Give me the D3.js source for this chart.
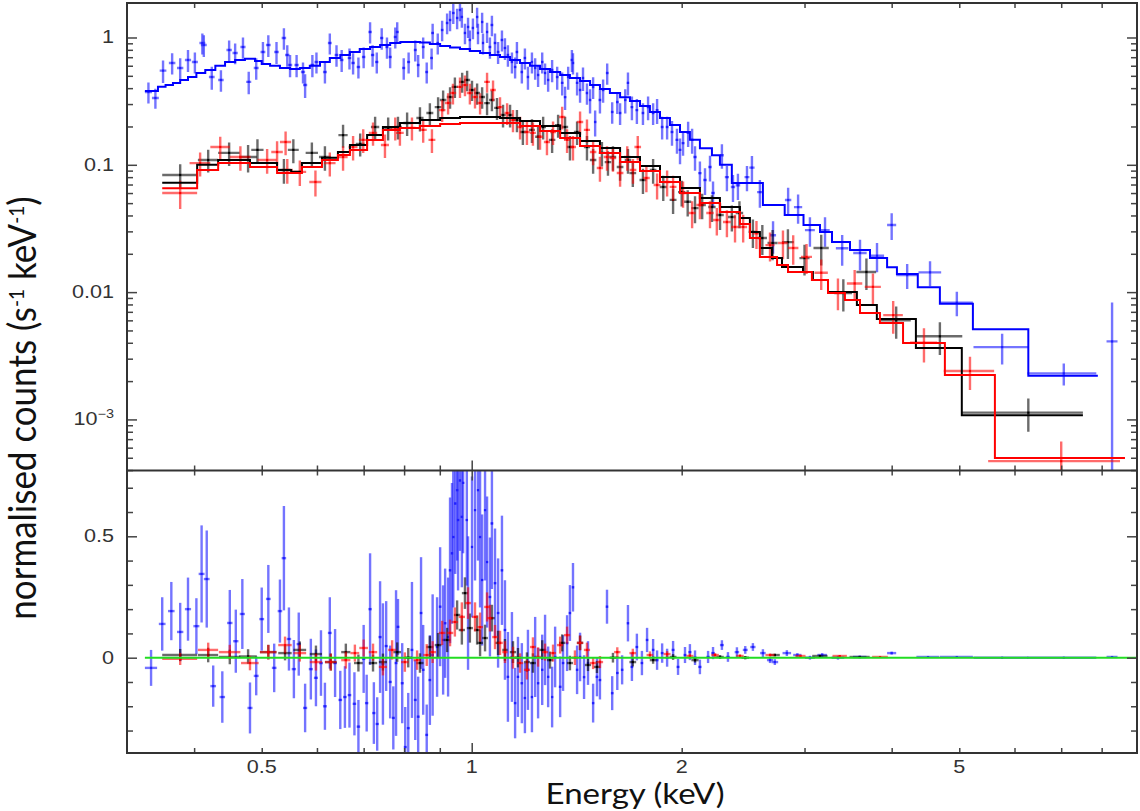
<!DOCTYPE html>
<html><head><meta charset="utf-8">
<script src="https://cdn.jsdelivr.net/npm/d3@7"></script>
<style>html,body{margin:0;padding:0;background:#fff}svg{display:block}</style>
</head><body>
<svg id="c" width="1140" height="811"></svg>
<script>
// ---------- tick values ----------
const xMinorTicks = [0.4,0.5,0.6,0.7,0.8,0.9,2,3,4,5,6,7,8];
const xMajorTicks = [1];
const xTickLabels = [0.5,1,2,5];
const topMajorTicks = [0.001,0.01,0.1,1];
const topTickLabels = ["10^-3","0.01","0.1","1"];
const resMinorTicks = [-0.3,-0.2,-0.1,0.1,0.2,0.3,0.4,0.6,0.7];
const resMajorTicks = [0,0.5];
const resTickLabels = ["0","0.5"];
const zeroLineRange = [0.34, 8.99];

// ---------- data: [energy keV, half-width, value, error] ----------
const blueData = [
[0.344,0.004,0.373,0.07],[0.352,0.004,0.335,0.06],[0.361,0.004,0.549,0.11],[0.372,0.004,0.631,0.12],
[0.382,0.004,0.576,0.11],[0.392,0.004,0.666,0.13],[0.401,0.004,0.642,0.12],[0.411,0.004,0.905,0.17],
[0.413,0.004,0.873,0.17],[0.424,0.004,0.489,0.1],[0.437,0.004,0.464,0.09],[0.449,0.004,0.798,0.15],
[0.458,0.004,0.755,0.14],[0.470,0.004,0.842,0.16],[0.479,0.004,0.448,0.09],[0.491,0.004,0.576,0.11],
[0.502,0.004,0.770,0.15],[0.511,0.004,0.873,0.17],[0.525,0.004,0.770,0.15],[0.538,0.004,0.990,0.19],
[0.544,0.004,0.729,0.14],[0.549,0.004,0.608,0.12],[0.561,0.004,0.608,0.12],[0.573,0.004,0.535,0.1],
[0.577,0.004,0.424,0.09],[0.591,0.004,0.608,0.12],[0.599,0.004,0.642,0.12],[0.616,0.004,0.535,0.1],
[0.626,0.004,0.905,0.17],[0.640,0.004,0.729,0.14],[0.651,0.004,0.666,0.13],[0.668,0.004,0.690,0.13],
[0.676,0.004,0.631,0.12],[0.688,0.004,0.586,0.11],[0.700,0.004,0.703,0.13],[0.715,0.004,1.105,0.21],
[0.721,0.004,0.729,0.14],[0.731,0.004,0.642,0.12],[0.743,0.004,0.990,0.19],[0.756,0.004,0.842,0.16],
[0.764,0.004,0.703,0.13],[0.777,0.004,1.010,0.19],[0.782,0.004,1.105,0.21],[0.799,0.004,0.576,0.11],
[0.812,0.004,0.642,0.12],[0.830,0.004,0.798,0.15],[0.838,0.004,0.608,0.12],[0.852,0.004,0.842,0.16],
[0.862,0.004,0.535,0.1],[0.876,0.004,0.690,0.13],[0.879,0.004,1.085,0.2],[0.894,0.004,0.905,0.17],
[0.907,0.004,1.145,0.21],[0.922,0.004,1.300,0.24],[0.931,0.004,1.372,0.25],[0.941,0.004,1.557,0.28],
[0.953,0.004,1.423,0.26],[0.962,0.004,1.644,0.3],[0.968,0.004,1.450,0.26],[0.978,0.004,1.085,0.2],
[0.988,0.004,1.210,0.22],[0.994,0.004,0.956,0.18],[1.004,0.004,1.188,0.22],[1.018,0.004,1.450,0.26],
[1.021,0.004,1.085,0.2],[1.035,0.004,1.323,0.24],[1.038,0.004,0.905,0.17],[1.052,0.004,1.105,0.2],
[1.062,0.005,0.842,0.16],[1.069,0.005,1.254,0.23],[1.080,0.005,0.905,0.17],[1.091,0.005,0.770,0.15],
[1.105,0.005,0.956,0.18],[1.116,0.005,0.827,0.16],[1.127,0.005,0.729,0.14],[1.142,0.005,0.642,0.12],
[1.154,0.005,0.586,0.11],[1.161,0.005,0.770,0.15],[1.180,0.005,0.535,0.1],[1.192,0.005,0.690,0.13],
[1.204,0.005,0.489,0.1],[1.220,0.005,0.642,0.12],[1.233,0.005,0.576,0.11],[1.245,0.005,0.508,0.1],
[1.262,0.005,0.642,0.12],[1.274,0.005,0.526,0.1],[1.287,0.005,0.464,0.09],[1.304,0.005,0.556,0.11],
[1.326,0.006,0.489,0.1],[1.348,0.006,0.440,0.09],[1.361,0.006,0.340,0.07],[1.375,0.006,0.489,0.1],
[1.392,0.006,0.666,0.13],[1.397,0.006,0.631,0.12],[1.416,0.006,0.440,0.09],[1.430,0.006,0.387,0.08],
[1.444,0.006,0.480,0.1],[1.463,0.006,0.366,0.07],[1.478,0.006,0.323,0.07],[1.493,0.006,0.408,0.08],
[1.503,0.006,0.217,0.05],[1.527,0.007,0.323,0.07],[1.543,0.007,0.387,0.08],[1.564,0.007,0.526,0.1],
[1.590,0.007,0.260,0.05],[1.617,0.007,0.311,0.06],[1.632,0.007,0.255,0.05],[1.660,0.007,0.323,0.07],
[1.675,0.007,0.440,0.09],[1.697,0.008,0.284,0.06],[1.725,0.008,0.269,0.06],[1.760,0.008,0.255,0.05],
[1.790,0.008,0.284,0.06],[1.820,0.008,0.255,0.05],[1.844,0.009,0.269,0.06],[1.875,0.009,0.198,0.04],
[1.906,0.009,0.198,0.04],[1.937,0.01,0.181,0.04],[1.969,0.01,0.157,0.035],[1.989,0.01,0.131,0.03],
[2.009,0.01,0.148,0.03],[2.043,0.011,0.178,0.04],[2.070,0.011,0.157,0.035],[2.090,0.012,0.115,0.025],
[2.124,0.012,0.086,0.02],[2.160,0.013,0.076,0.018],[2.196,0.013,0.096,0.022],[2.218,0.014,0.060,0.014],
[2.284,0.015,0.119,0.026],[2.322,0.016,0.080,0.018],[2.369,0.017,0.067,0.016],[2.408,0.018,0.069,0.016],
[2.481,0.02,0.080,0.018],[2.522,0.022,0.095,0.022],[2.589,0.024,0.061,0.015],[2.704,0.027,0.028,0.008],
[2.842,0.03,0.0529,0.013],[2.937,0.04,0.0465,0.012],[3.054,0.05,0.0307,0.008],[3.210,0.05,0.0307,0.008],
[3.397,0.07,0.0221,0.006],[3.603,0.08,0.0203,0.0055],[3.811,0.09,0.0193,0.005],[4.000,0.06,0.0337,0.008],
[4.210,0.15,0.0136,0.003],[4.540,0.17,0.0143,0.0032],[4.960,0.27,0.00825,0.0018],[5.760,0.52,0.0037,0.001],
[7.060,0.8,0.0023,0.00045],[8.280,0.15,0.0041,0.0042]
];
const blackData = [
[0.382,0.022,0.0832,0.018],[0.419,0.014,0.109,0.022],[0.449,0.016,0.124,0.026],[0.478,0.014,0.115,0.028],
[0.493,0.01,0.131,0.028],[0.538,0.012,0.091,0.02],[0.555,0.01,0.131,0.028],[0.590,0.012,0.124,0.026],
[0.616,0.012,0.115,0.025],[0.654,0.01,0.171,0.035],[0.692,0.01,0.146,0.03],[0.727,0.01,0.198,0.04],
[0.759,0.01,0.195,0.04],[0.784,0.01,0.198,0.04],[0.808,0.01,0.213,0.045],[0.843,0.01,0.233,0.05],
[0.871,0.01,0.255,0.05],[0.895,0.01,0.284,0.055],[0.910,0.01,0.323,0.06],[0.931,0.01,0.341,0.065],
[0.946,0.01,0.409,0.075],[0.969,0.01,0.448,0.08],[0.985,0.01,0.464,0.085],[1.001,0.01,0.387,0.07],
[1.018,0.01,0.366,0.07],[1.035,0.01,0.341,0.065],[1.052,0.01,0.305,0.06],[1.069,0.01,0.323,0.06],
[1.087,0.01,0.280,0.055],[1.109,0.01,0.246,0.05],[1.135,0.01,0.246,0.05],[1.161,0.012,0.225,0.045],
[1.184,0.012,0.181,0.038],[1.220,0.012,0.188,0.04],[1.245,0.012,0.166,0.035],[1.266,0.012,0.198,0.04],
[1.304,0.014,0.157,0.033],[1.330,0.014,0.205,0.042],[1.361,0.014,0.198,0.04],[1.383,0.014,0.138,0.03],
[1.416,0.015,0.181,0.038],[1.463,0.015,0.138,0.03],[1.493,0.016,0.109,0.024],[1.537,0.016,0.124,0.027],
[1.568,0.017,0.105,0.023],[1.594,0.017,0.115,0.025],[1.632,0.018,0.096,0.021],[1.675,0.018,0.109,0.024],
[1.702,0.019,0.086,0.019],[1.760,0.02,0.076,0.017],[1.820,0.02,0.091,0.02],[1.882,0.022,0.067,0.015],
[1.944,0.022,0.053,0.012],[2.000,0.024,0.061,0.014],[2.040,0.024,0.0512,0.012],[2.090,0.025,0.0457,0.011],
[2.140,0.026,0.0483,0.011],[2.210,0.027,0.0466,0.011],[2.270,0.028,0.0403,0.0095],[2.360,0.03,0.0389,0.009],
[2.420,0.03,0.0418,0.01],[2.530,0.035,0.0297,0.0075],[2.610,0.04,0.0266,0.007],[2.700,0.045,0.0243,0.0065],
[2.840,0.055,0.0247,0.0065],[3.000,0.05,0.0185,0.005],[3.170,0.08,0.0222,0.006],[3.410,0.1,0.00984,0.0028],
[3.680,0.12,0.0144,0.004],[4.060,0.2,0.0060,0.0017],[4.690,0.36,0.0045,0.0013],[6.280,1.24,0.00113,0.00033]
];
const redData = [
[0.382,0.022,0.060,0.015],[0.408,0.014,0.103,0.022],[0.436,0.014,0.138,0.028],[0.466,0.016,0.115,0.025],
[0.509,0.016,0.109,0.024],[0.526,0.01,0.126,0.027],[0.541,0.01,0.151,0.032],[0.544,0.01,0.091,0.02],
[0.567,0.012,0.088,0.02],[0.597,0.012,0.0733,0.017],[0.626,0.012,0.103,0.022],[0.654,0.01,0.115,0.025],
[0.676,0.01,0.138,0.03],[0.699,0.01,0.157,0.033],[0.722,0.01,0.178,0.037],[0.751,0.01,0.143,0.03],
[0.777,0.01,0.195,0.04],[0.789,0.01,0.178,0.037],[0.821,0.01,0.195,0.04],[0.852,0.01,0.188,0.039],
[0.877,0.01,0.157,0.033],[0.907,0.01,0.269,0.052],[0.925,0.01,0.306,0.058],[0.940,0.01,0.366,0.068],
[0.962,0.01,0.409,0.075],[0.978,0.01,0.424,0.078],[0.994,0.01,0.366,0.068],[1.011,0.01,0.341,0.064],
[1.028,0.01,0.306,0.058],[1.052,0.01,0.448,0.08],[1.073,0.01,0.387,0.072],[1.098,0.01,0.284,0.055],
[1.124,0.01,0.255,0.05],[1.146,0.012,0.225,0.045],[1.173,0.012,0.198,0.04],[1.200,0.012,0.181,0.038],
[1.224,0.012,0.178,0.037],[1.253,0.012,0.166,0.035],[1.282,0.013,0.151,0.032],[1.308,0.013,0.181,0.038],
[1.348,0.014,0.2375,0.048],[1.370,0.014,0.157,0.033],[1.397,0.014,0.138,0.03],[1.430,0.015,0.217,0.045],
[1.463,0.015,0.188,0.039],[1.493,0.016,0.126,0.027],[1.527,0.016,0.0945,0.021],[1.563,0.017,0.115,0.025],
[1.594,0.017,0.113,0.025],[1.632,0.018,0.0862,0.019],[1.671,0.018,0.115,0.025],[1.703,0.019,0.091,0.02],
[1.730,0.019,0.138,0.03],[1.780,0.02,0.0788,0.018],[1.844,0.021,0.0694,0.016],[1.906,0.022,0.0733,0.017],
[1.944,0.022,0.0671,0.015],[2.009,0.024,0.060,0.014],[2.070,0.024,0.0418,0.01],[2.124,0.025,0.0483,0.011],
[2.196,0.027,0.0418,0.01],[2.246,0.028,0.0368,0.009],[2.322,0.03,0.0355,0.0085],[2.385,0.03,0.0325,0.008],
[2.450,0.032,0.0325,0.008],[2.560,0.035,0.029,0.0072],[2.677,0.04,0.0234,0.006],[2.794,0.045,0.0243,0.0062],
[2.890,0.05,0.0222,0.0058],[3.020,0.055,0.0189,0.005],[3.170,0.07,0.0142,0.0038],[3.350,0.08,0.0100,0.0028],
[3.540,0.09,0.0117,0.0032],[3.760,0.1,0.0110,0.003],[4.020,0.13,0.0066,0.0019],[4.450,0.2,0.0040,0.0012],
[5.180,0.43,0.0024,0.0007],[7.000,1.5,0.00047,0.0002]
];

// ---------- folded models: [bin low edge keV, value] (last entry closes final bin) ----------
const blueModel = [
[0.340,0.380],[0.355,0.410],[0.364,0.424],[0.373,0.440],[0.382,0.464],[0.392,0.489],[0.403,0.526],
[0.415,0.556],[0.429,0.600],[0.443,0.642],[0.458,0.666],[0.473,0.680],[0.489,0.654],[0.500,0.620],
[0.514,0.600],[0.531,0.576],[0.549,0.565],[0.567,0.576],[0.586,0.600],[0.606,0.642],[0.626,0.690],
[0.648,0.729],[0.669,0.770],[0.691,0.812],[0.715,0.842],[0.739,0.873],[0.764,0.905],[0.790,0.922],
[0.816,0.922],[0.843,0.913],[0.871,0.889],[0.901,0.857],[0.931,0.835],[0.962,0.812],[0.994,0.783],
[1.028,0.755],[1.062,0.729],[1.098,0.703],[1.135,0.666],[1.173,0.631],[1.212,0.600],[1.253,0.565],
[1.295,0.535],[1.339,0.508],[1.383,0.480],[1.430,0.455],[1.478,0.424],[1.527,0.394],[1.578,0.366],
[1.632,0.340],[1.686,0.317],[1.743,0.290],[1.801,0.260],[1.862,0.233],[1.924,0.205],[1.989,0.181],
[2.055,0.157],[2.124,0.135],[2.210,0.119],[2.269,0.100],[2.360,0.072],[2.615,0.0483],[2.810,0.0403],
[2.990,0.0337],[3.157,0.0297],[3.285,0.0247],[3.486,0.0214],[3.724,0.0185],[3.940,0.0157],[4.070,0.0139],
[4.360,0.0109],[4.690,0.0081],[5.230,0.0051],[6.280,0.0022],[7.900,0.0022]
];
const blackModel = [
[0.360,0.0724],[0.404,0.100],[0.433,0.109],[0.481,0.1033],[0.526,0.091],[0.551,0.088],[0.571,0.1033],
[0.610,0.1134],[0.643,0.1262],[0.669,0.143],[0.708,0.1714],[0.746,0.198],[0.789,0.213],[0.843,0.2248],
[0.901,0.2332],[0.962,0.237],[1.028,0.237],[1.098,0.2332],[1.173,0.2208],[1.253,0.2017],[1.339,0.1778],
[1.430,0.1538],[1.527,0.1355],[1.632,0.1151],[1.743,0.0979],[1.862,0.0802],[1.989,0.0657],[2.124,0.0548],
[2.269,0.0466],[2.424,0.0382],[2.505,0.0297],[2.589,0.0222],[2.694,0.01853],[2.785,0.01575],[2.985,0.01439],
[3.084,0.01245],[3.242,0.01002],[3.566,0.00792],[3.809,0.00615],[4.333,0.00364],[5.042,0.00108],[7.520,0.00108]
];
const redModel = [
[0.360,0.0654],[0.404,0.091],[0.433,0.1033],[0.481,0.0961],[0.526,0.0862],[0.571,0.0961],[0.610,0.109],
[0.643,0.1194],[0.669,0.1307],[0.708,0.1566],[0.746,0.1877],[0.789,0.1946],[0.843,0.2017],[0.901,0.2092],
[0.962,0.213],[1.028,0.213],[1.098,0.213],[1.173,0.2017],[1.253,0.1842],[1.339,0.1624],[1.430,0.1405],
[1.527,0.1238],[1.632,0.1052],[1.743,0.0894],[1.862,0.0733],[1.989,0.060],[2.124,0.0501],[2.269,0.0426],
[2.424,0.0343],[2.505,0.0266],[2.589,0.01887],[2.740,0.01633],[2.841,0.01439],[3.074,0.01245],[3.242,0.00984],
[3.428,0.00867],[3.603,0.00685],[3.848,0.00572],[4.153,0.00398],[4.768,0.00223],[5.624,0.000497],[8.640,0.000497]
];

// ---------- residuals: [energy keV, half-width, residual, error] ----------
const blueRes = [
[0.347,0.007,-0.042,0.074],[0.360,0.004,0.139,0.11],[0.371,0.004,0.192,0.12],[0.382,0.004,0.106,0.12],
[0.392,0.004,0.200,0.13],[0.403,0.004,0.130,0.115],[0.410,0.004,0.345,0.2],[0.417,0.004,0.324,0.2],
[0.426,0.004,-0.117,0.085],[0.439,0.004,-0.162,0.106],[0.450,0.004,0.143,0.136],[0.459,0.004,0.068,0.13],
[0.469,0.004,0.180,0.144],[0.481,0.004,-0.207,0.105],[0.491,0.004,-0.075,0.08],[0.500,0.004,0.159,0.13],
[0.511,0.004,0.242,0.14],[0.521,0.004,-0.042,0.1],[0.531,0.004,0.192,0.13],[0.538,0.004,0.410,0.215],
[0.547,0.004,0.077,0.13],[0.556,0.004,-0.047,0.12],[0.565,0.004,0.056,0.13],[0.577,0.004,-0.207,0.1],
[0.588,0.004,-0.047,0.125],[0.598,0.004,-0.083,0.117],[0.608,0.004,-0.022,0.135],[0.616,0.004,-0.200,0.097],
[0.626,0.004,0.102,0.147],[0.637,0.004,-0.022,0.14],[0.648,0.004,-0.174,0.12],[0.658,0.004,-0.162,0.127],
[0.668,0.004,-0.154,0.134],[0.679,0.004,-0.190,0.13],[0.688,0.004,-0.284,0.11],[0.700,0.004,-0.005,0.14],
[0.707,0.004,-0.187,0.117],[0.715,0.004,0.200,0.23],[0.724,0.004,-0.228,0.127],[0.732,0.004,-0.273,0.11],
[0.739,0.004,0.085,0.23],[0.746,0.004,-0.026,0.25],[0.754,0.004,0.048,0.185],[0.764,0.004,-0.100,0.15],
[0.772,0.004,-0.248,0.13],[0.779,0.004,-0.022,0.3],[0.784,0.004,0.127,0.115],[0.795,0.004,-0.105,0.165],
[0.803,0.004,-0.368,0.165],[0.811,0.004,-0.290,0.145],[0.821,0.004,0.032,0.28],[0.830,0.004,-0.174,0.165],
[0.838,0.004,-0.243,0.165],[0.846,0.004,0.184,0.23],[0.852,0.004,-0.050,0.185],[0.862,0.004,-0.318,0.125],
[0.871,0.004,-0.092,0.185],[0.879,0.004,0.011,0.25],[0.892,0.004,0.044,0.205],[0.901,0.004,0.210,0.245],
[0.910,0.004,0.073,0.225],[0.916,0.004,0.142,0.225],[0.925,0.004,0.085,0.245],[0.931,0.004,0.360,0.3],
[0.937,0.004,0.430,0.29],[0.941,0.004,0.497,0.29],[0.947,0.004,0.635,0.29],[0.953,0.004,0.690,0.29],
[0.956,0.004,0.567,0.29],[0.962,0.004,0.730,0.29],[0.968,0.004,0.580,0.29],[0.972,0.004,0.720,0.29],
[0.984,0.004,0.567,0.27],[0.988,0.004,0.225,0.275],[1.001,0.004,0.456,0.29],[1.011,0.004,0.608,0.29],
[1.021,0.004,0.690,0.29],[1.028,0.004,0.497,0.29],[1.035,0.004,0.320,0.27],[1.045,0.004,0.608,0.29],
[1.052,0.004,0.394,0.27],[1.062,0.005,0.250,0.245],[1.069,0.005,0.553,0.27],[1.080,0.005,0.307,0.225],
[1.091,0.005,0.184,0.225],[1.105,0.005,0.360,0.225],[1.116,0.005,0.114,0.205],[1.127,0.005,-0.079,0.185],
[1.142,0.005,0.003,0.185],[1.154,0.005,-0.187,0.145],[1.165,0.005,-0.079,0.165],[1.180,0.005,-0.105,0.165],
[1.192,0.005,-0.166,0.145],[1.204,0.005,-0.050,0.165],[1.220,0.005,-0.162,0.145],[1.233,0.005,0.003,0.165],
[1.245,0.005,-0.105,0.145],[1.262,0.005,-0.050,0.145],[1.274,0.005,0.032,0.145],[1.287,0.005,-0.079,0.125],
[1.304,0.005,-0.162,0.125],[1.317,0.006,0.003,0.125],[1.339,0.006,-0.120,0.125],[1.352,0.006,-0.022,0.115],
[1.370,0.006,0.060,0.115],[1.383,0.006,0.184,0.115],[1.397,0.006,0.290,0.1],[1.416,0.006,-0.050,0.1],
[1.430,0.006,0.003,0.1],[1.449,0.006,-0.080,0.09],[1.468,0.006,-0.022,0.09],[1.493,0.006,-0.187,0.08],
[1.512,0.007,-0.079,0.08],[1.527,0.007,-0.092,0.08],[1.563,0.007,0.210,0.07],[1.590,0.007,-0.146,0.07],
[1.617,0.007,-0.063,0.07],[1.643,0.007,-0.050,0.06],[1.675,0.007,0.142,0.075],[1.697,0.008,-0.038,0.058],
[1.725,0.008,0.044,0.055],[1.754,0.008,-0.022,0.05],[1.784,0.008,0.073,0.05],[1.820,0.008,0.032,0.045],
[1.844,0.009,-0.010,0.04],[1.875,0.009,0.019,0.04],[1.906,0.009,0.000,0.037],[1.944,0.01,0.032,0.037],
[1.976,0.01,-0.038,0.033],[2.022,0.01,0.011,0.033],[2.055,0.011,0.023,0.033],[2.090,0.012,0.000,0.03],
[2.124,0.012,-0.038,0.03],[2.182,0.013,0.003,0.025],[2.218,0.014,0.019,0.025],[2.284,0.015,0.052,0.02],
[2.330,0.016,0.003,0.02],[2.400,0.018,0.023,0.02],[2.467,0.02,0.032,0.016],[2.530,0.022,0.044,0.016],
[2.615,0.024,0.019,0.016],[2.677,0.027,-0.010,0.012],[2.720,0.03,-0.018,0.012],[2.830,0.04,0.019,0.012],
[2.930,0.04,0.011,0.008],[3.054,0.05,0.000,0.008],[3.180,0.05,0.011,0.008],[3.350,0.07,0.000,0.008],
[3.600,0.08,0.003,0.006],[4.000,0.06,0.019,0.006],[4.510,0.17,0.003,0.004],[4.960,0.27,0.003,0.004],
[5.760,0.52,0.000,0.002],[7.060,0.8,0.000,0.002],[8.280,0.15,0.003,0.004]
];
const blackRes = [
[0.382,0.022,0.011,0.025],[0.419,0.014,0.011,0.03],[0.450,0.016,0.003,0.03],[0.478,0.014,0.005,0.03],
[0.511,0.014,0.023,0.03],[0.540,0.012,0.019,0.03],[0.567,0.012,0.032,0.035],[0.598,0.012,0.015,0.035],
[0.628,0.012,-0.018,0.035],[0.660,0.01,0.023,0.035],[0.688,0.01,-0.022,0.035],[0.722,0.01,-0.022,0.035],
[0.746,0.01,-0.018,0.035],[0.782,0.01,0.023,0.04],[0.811,0.01,0.000,0.04],[0.843,0.01,-0.022,0.04],
[0.871,0.01,0.044,0.045],[0.895,0.01,0.052,0.05],[0.922,0.01,0.073,0.05],[0.953,0.01,0.176,0.06],
[0.968,0.01,0.114,0.06],[0.978,0.01,0.266,0.065],[0.994,0.01,0.122,0.06],[1.018,0.01,0.114,0.06],
[1.028,0.01,0.061,0.055],[1.045,0.01,0.081,0.055],[1.069,0.01,0.163,0.055],[1.091,0.01,0.061,0.05],
[1.116,0.01,0.032,0.045],[1.146,0.012,0.023,0.045],[1.165,0.012,0.000,0.04],[1.200,0.012,-0.018,0.04],
[1.224,0.012,-0.022,0.04],[1.262,0.012,0.032,0.04],[1.295,0.013,-0.010,0.035],[1.348,0.014,0.061,0.035],
[1.383,0.014,-0.022,0.03],[1.430,0.015,0.061,0.03],[1.468,0.015,-0.030,0.025],[1.512,0.016,-0.038,0.025],
[1.594,0.017,0.000,0.02],[1.702,0.019,-0.018,0.018],[1.820,0.02,-0.010,0.015],[1.944,0.022,0.003,0.012],
[2.090,0.025,-0.010,0.01],[2.270,0.028,0.003,0.008],[2.467,0.03,0.000,0.007],[2.720,0.045,0.011,0.006],
[3.157,0.08,0.007,0.005],[3.600,0.12,0.003,0.004]
];
const redRes = [
[0.382,0.022,-0.005,0.025],[0.419,0.014,0.032,0.03],[0.450,0.016,0.023,0.03],[0.481,0.014,-0.022,0.03],
[0.511,0.014,0.023,0.03],[0.540,0.012,0.052,0.035],[0.567,0.012,0.019,0.035],[0.598,0.012,-0.018,0.035],
[0.628,0.012,-0.018,0.035],[0.660,0.01,-0.010,0.035],[0.680,0.01,0.019,0.035],[0.700,0.01,0.040,0.035],
[0.722,0.01,0.023,0.035],[0.746,0.01,-0.038,0.035],[0.769,0.01,0.032,0.04],[0.802,0.01,-0.018,0.04],
[0.835,0.01,-0.010,0.04],[0.862,0.01,0.011,0.045],[0.879,0.01,0.023,0.045],[0.907,0.01,0.102,0.05],
[0.931,0.01,0.102,0.055],[0.946,0.01,0.147,0.06],[0.968,0.01,0.168,0.06],[0.988,0.01,0.225,0.065],
[1.011,0.01,0.168,0.06],[1.028,0.01,0.126,0.06],[1.052,0.01,0.209,0.06],[1.062,0.01,0.163,0.055],
[1.080,0.01,0.085,0.05],[1.098,0.01,0.061,0.05],[1.116,0.01,0.023,0.045],[1.146,0.012,0.000,0.045],
[1.173,0.012,-0.022,0.04],[1.200,0.012,-0.050,0.04],[1.224,0.012,0.044,0.04],[1.245,0.012,0.003,0.04],
[1.274,0.013,0.023,0.035],[1.308,0.013,0.019,0.035],[1.339,0.014,0.052,0.035],[1.370,0.014,0.093,0.035],
[1.406,0.014,0.000,0.03],[1.430,0.015,0.061,0.03],[1.463,0.015,0.032,0.03],[1.493,0.016,-0.022,0.025],
[1.527,0.016,-0.018,0.025],[1.617,0.017,0.023,0.02],[1.702,0.019,0.019,0.018],[1.801,0.02,0.011,0.015],
[1.906,0.022,0.015,0.012],[2.055,0.024,0.007,0.01],[2.233,0.028,0.011,0.008],[2.424,0.03,0.007,0.007],
[2.677,0.04,0.011,0.006],[2.960,0.05,0.007,0.005],[3.370,0.08,0.007,0.004],[3.850,0.1,0.003,0.003]
];

// ---------- layout ----------
const L = 127, R = 1137, T = 3, MID = 470.5, B = 753;
const x = d3.scaleLog().domain([0.3205, 8.99]).range([L, R]);
const yTop = d3.scaleLog().domain([3.97e-4, 1.866]).range([MID, T]);
const yRes = d3.scaleLinear().domain([-0.3925, 0.771]).range([B, MID]);

const svg = d3.select("#c");
svg.append("rect").attr("width",1140).attr("height",811).attr("fill","#fff");
const defs = svg.append("defs");
defs.append("clipPath").attr("id","clipTop").append("rect")
  .attr("x",L).attr("y",T).attr("width",R-L).attr("height",MID-T);
defs.append("clipPath").attr("id","clipRes").append("rect")
  .attr("x",L).attr("y",MID).attr("width",R-L).attr("height",B-MID);

const gTop = svg.append("g").attr("clip-path","url(#clipTop)");
const gRes = svg.append("g").attr("clip-path","url(#clipRes)");

function drawErr(g, data, yScale, color, opacity, isLog) {
  const lo = d => isLog ? Math.max(d[2]-d[3], 1e-6) : d[2]-d[3];
  const grp = g.append("g").attr("stroke", color).attr("stroke-width", 2.4).attr("stroke-opacity", opacity);
  grp.selectAll("line.v").data(data).join("line").attr("class","v")
    .attr("x1", d => x(d[0])).attr("x2", d => x(d[0]))
    .attr("y1", d => yScale(lo(d))).attr("y2", d => yScale(d[2]+d[3]));
  grp.selectAll("line.h").data(data).join("line").attr("class","h")
    .attr("x1", d => x(d[0]-d[1])).attr("x2", d => x(d[0]+d[1]))
    .attr("y1", d => yScale(d[2])).attr("y2", d => yScale(d[2]));
  g.append("g").attr("fill", color).selectAll("rect").data(data).join("rect")
    .attr("x", d => x(d[0]) - 1).attr("y", d => yScale(d[2]) - 1)
    .attr("width", 2).attr("height", 2);
}

drawErr(gTop, blueData, yTop, "#1f1fff", 0.62, true);
drawErr(gTop, blackData, yTop, "#000", 0.58, true);
drawErr(gTop, redData, yTop, "#ff0000", 0.58, true);

const stepLine = d3.line().x(d => x(d[0])).y(d => yTop(d[1])).curve(d3.curveStepAfter);
gTop.append("path").datum(blueModel).attr("d", stepLine).attr("fill","none").attr("stroke","#0000ff").attr("stroke-width",2);
gTop.append("path").datum(blackModel).attr("d", stepLine).attr("fill","none").attr("stroke","#000").attr("stroke-width",2);
gTop.append("path").datum(redModel).attr("d", stepLine).attr("fill","none").attr("stroke","#ff0000").attr("stroke-width",2);

drawErr(gRes, blueRes, yRes, "#1f1fff", 0.62, false);
drawErr(gRes, blackRes, yRes, "#000", 0.58, false);
drawErr(gRes, redRes, yRes, "#ff0000", 0.58, false);
gRes.append("line").attr("x1", x(zeroLineRange[0])).attr("x2", x(zeroLineRange[1]))
  .attr("y1", yRes(0)).attr("y2", yRes(0)).attr("stroke","#22dd22").attr("stroke-width",2);

// ---------- axes / ticks ----------
const tickColor = "#444";
function ticks(gen, tx, ty, vals, size) {
  const g = svg.append("g").attr("transform", `translate(${tx},${ty})`)
    .call(gen.tickValues(vals).tickSize(size).tickFormat(""));
  g.select(".domain").remove();
  g.selectAll("line").attr("stroke", tickColor).attr("stroke-width", 1.5);
}
const topMinor = yTop.ticks().filter(v => !topMajorTicks.some(m => Math.abs(m - v) / m < 1e-6));
ticks(d3.axisRight(yTop), L, 0, topMinor, 6);
ticks(d3.axisRight(yTop), L, 0, topMajorTicks, 10);
ticks(d3.axisLeft(yTop), R, 0, topMinor, 6);
ticks(d3.axisLeft(yTop), R, 0, topMajorTicks, 10);
ticks(d3.axisRight(yRes), L, 0, resMinorTicks, 6);
ticks(d3.axisRight(yRes), L, 0, resMajorTicks, 10);
ticks(d3.axisLeft(yRes), R, 0, resMinorTicks, 6);
ticks(d3.axisLeft(yRes), R, 0, resMajorTicks, 10);
[[d3.axisBottom, T],[d3.axisTop, MID],[d3.axisBottom, MID],[d3.axisTop, B]].forEach(([gen, yy]) => {
  ticks(gen(x), 0, yy, xMinorTicks, 5);
  ticks(gen(x), 0, yy, xMajorTicks, 10);
});

svg.append("rect").attr("x",L).attr("y",T).attr("width",R-L).attr("height",B-T)
  .attr("fill","none").attr("stroke","#333").attr("stroke-width",2);
svg.append("line").attr("x1",L).attr("x2",R).attr("y1",MID).attr("y2",MID)
  .attr("stroke","#333").attr("stroke-width",2);

// ---------- labels ----------
const lblFont = "'Liberation Sans', Arial, sans-serif";
const lblColor = "#333";
xTickLabels.forEach(v => {
  svg.append("text").attr("transform", `translate(${x(v)},773) scale(1.2,1)`)
    .attr("text-anchor","middle").attr("font-family",lblFont).attr("font-size",18)
    .attr("fill",lblColor).text(v);
});
topMajorTicks.forEach((v, i) => {
  const t = svg.append("text").attr("transform", `translate(114,${yTop(v)+6}) scale(1.2,1)`)
    .attr("text-anchor","end").attr("font-family",lblFont).attr("font-size",18).attr("fill",lblColor);
  const s = topTickLabels[i];
  if (s.includes("^")) {
    const [base, exp] = s.split("^");
    t.append("tspan").text(base);
    t.append("tspan").attr("dy",-7).attr("font-size",12).text(exp.replace("-","\u2212"));
  } else t.text(s);
});
resMajorTicks.forEach((v, i) => {
  svg.append("text").attr("transform", `translate(114,${yRes(v)+6}) scale(1.2,1)`)
    .attr("text-anchor","end").attr("font-family",lblFont).attr("font-size",18)
    .attr("fill",lblColor).text(resTickLabels[i]);
});

const titleFont = "Lato, 'Open Sans', sans-serif";
const yt = svg.append("text").attr("transform","translate(36,408) rotate(-90) scale(1,1.08)")
  .attr("text-anchor","middle").attr("font-family",titleFont).attr("font-size",35).attr("fill","#111");
yt.append("tspan").text("normalised counts (s");
yt.append("tspan").attr("dy",-11).attr("font-size",19).text("-1");
yt.append("tspan").attr("dy",11).text(" keV");
yt.append("tspan").attr("dy",-11).attr("font-size",19).text("-1");
yt.append("tspan").attr("dy",11).text(")");

svg.append("text").attr("transform","translate(635,804) scale(1.18,1)")
  .attr("text-anchor","middle").attr("font-family",titleFont).attr("font-size",28)
  .attr("fill","#111").text("Energy (keV)");
</script>
</body></html>
